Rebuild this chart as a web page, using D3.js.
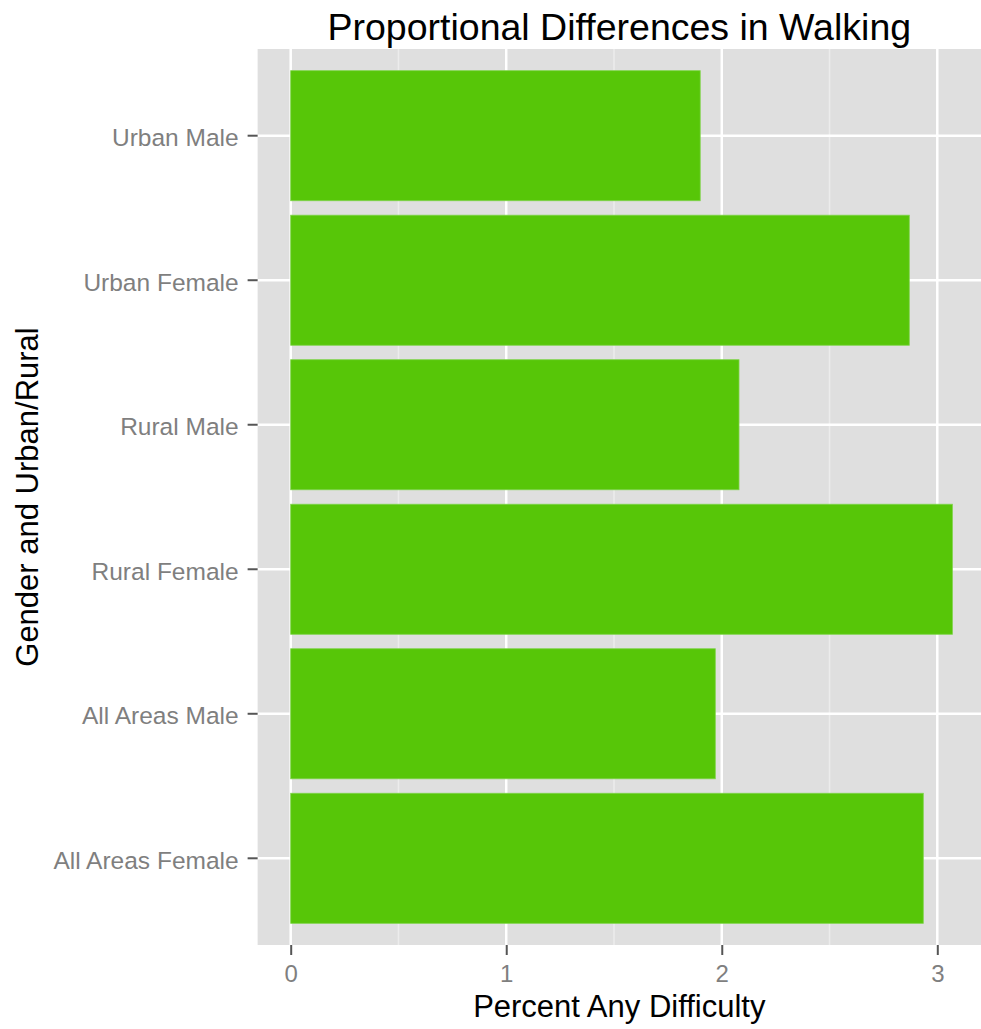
<!DOCTYPE html>
<html>
<head>
<meta charset="utf-8">
<script src="https://cdn.jsdelivr.net/npm/d3@7"></script>
<style>
  body { margin: 0; background: #fff; }
  svg text { font-family: "Liberation Sans", Arial, Helvetica, sans-serif; }
</style>
</head>
<body>
<svg id="chart" width="981" height="1029"></svg>
<script>
var categories = ["Urban Male", "Urban Female", "Rural Male", "Rural Female", "All Areas Male", "All Areas Female"];
var values = [1.90, 2.87, 2.08, 3.07, 1.97, 2.935];
var xTicks = [0, 1, 2, 3];
var xMinor = [0.5, 1.5, 2.5];

var data = categories.map(function(c, i) { return {cat: c, value: values[i]}; });

var width = 981, height = 1029,
    panelTop = 49, panelBottom = 945;

var svg = d3.select("#chart");
var vmax = d3.max(values);

var x = d3.scaleLinear()
    .domain([0, 3])
    .range([290.7, 937.3]);

var panelLeft = x(-0.05 * vmax);

var y = d3.scaleBand()
    .domain(categories)
    .range([panelTop, panelBottom])
    .paddingInner(0.1)
    .paddingOuter(0.15);

// panel background
svg.append("rect")
  .attr("x", panelLeft).attr("y", panelTop)
  .attr("width", width - panelLeft).attr("height", panelBottom - panelTop)
  .attr("fill", "#dfdfdf");

// minor grid
svg.append("g").selectAll("line")
  .data(xMinor).enter().append("line")
  .attr("x1", function(d) { return x(d); }).attr("x2", function(d) { return x(d); })
  .attr("y1", panelTop).attr("y2", panelBottom)
  .attr("stroke", "#ececec").attr("stroke-width", 1.5);

// major grid
svg.append("g").selectAll("line")
  .data(xTicks).enter().append("line")
  .attr("x1", function(d) { return x(d); }).attr("x2", function(d) { return x(d); })
  .attr("y1", panelTop).attr("y2", panelBottom)
  .attr("stroke", "#fff").attr("stroke-width", 2.5);

svg.append("g").selectAll("line")
  .data(categories).enter().append("line")
  .attr("x1", panelLeft).attr("x2", width)
  .attr("y1", function(d) { return y(d) + y.bandwidth() / 2; })
  .attr("y2", function(d) { return y(d) + y.bandwidth() / 2; })
  .attr("stroke", "#fff").attr("stroke-width", 2.5);

// bars
svg.append("g").selectAll("rect")
  .data(data).enter().append("rect")
  .attr("x", x(0))
  .attr("y", function(d) { return y(d.cat); })
  .attr("width", function(d) { return x(d.value) - x(0); })
  .attr("height", y.bandwidth())
  .attr("fill", "#57c608")
  .attr("stroke", "#7fd44a")
  .attr("stroke-width", 0.8);

// x axis
var xAxis = svg.append("g")
  .attr("transform", "translate(0," + panelBottom + ")")
  .call(d3.axisBottom(x).tickValues(xTicks).tickSize(10).tickPadding(10).tickFormat(d3.format("d")));
xAxis.select(".domain").remove();
xAxis.selectAll(".tick line").attr("stroke", "#555").attr("stroke-width", 2);
xAxis.selectAll(".tick text")
  .attr("fill", "#7f7f7f").style("font-size", "24px");

// y axis
var yAxis = svg.append("g")
  .attr("transform", "translate(" + panelLeft + ",0)")
  .call(d3.axisLeft(y).tickSize(10).tickPadding(9));
yAxis.select(".domain").remove();
yAxis.selectAll(".tick line").attr("stroke", "#555").attr("stroke-width", 2);
yAxis.selectAll(".tick text")
  .attr("fill", "#7f7f7f").attr("dy", "0.42em").style("font-size", "24.5px");

// titles
var panelMid = (panelLeft + width) / 2;
svg.append("text")
  .attr("x", panelMid).attr("y", 40)
  .attr("text-anchor", "middle")
  .style("font-size", "37.5px")
  .attr("fill", "#000")
  .text("Proportional Differences in Walking");

svg.append("text")
  .attr("x", panelMid).attr("y", 1017)
  .attr("text-anchor", "middle")
  .style("font-size", "31px")
  .attr("fill", "#000")
  .text("Percent Any Difficulty");

svg.append("text")
  .attr("transform", "translate(38," + ((panelTop + panelBottom) / 2) + ") rotate(-90)")
  .attr("text-anchor", "middle")
  .style("font-size", "31px")
  .attr("fill", "#000")
  .text("Gender and Urban/Rural");
</script>
</body>
</html>
